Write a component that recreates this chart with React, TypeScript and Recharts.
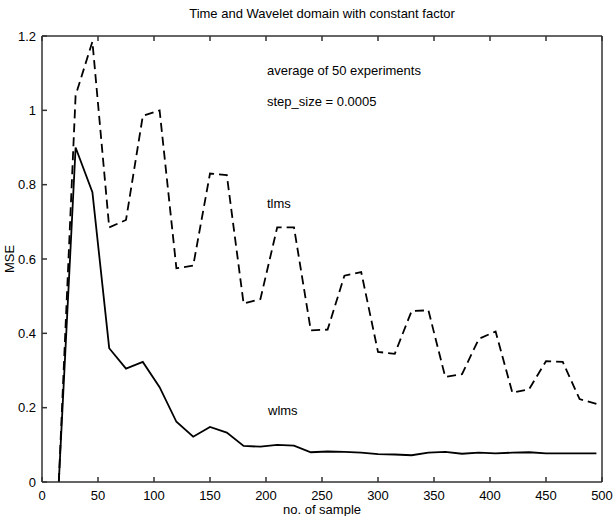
import { LineChart, Line, XAxis, YAxis } from 'recharts';

// sample index (every 15 samples)
const samples = [
  15, 30, 45, 60, 75, 90, 105, 120, 135, 150, 165, 180, 195, 210, 225, 240, 255,
  270, 285, 300, 315, 330, 345, 360, 375, 390, 405, 420, 435, 450, 465, 480, 495,
];

// time domain LMS (dashed)
const tlms = [
  0, 1.04, 1.185, 0.685, 0.705, 0.985, 1.0, 0.575, 0.582, 0.83, 0.826, 0.48, 0.492,
  0.685, 0.685, 0.408, 0.41, 0.555, 0.565, 0.35, 0.345, 0.46, 0.462, 0.283, 0.29,
  0.385, 0.405, 0.24, 0.25, 0.325, 0.323, 0.223, 0.21,
];

// wavelet domain LMS (solid)
const wlms = [
  0, 0.9, 0.78, 0.36, 0.305, 0.323, 0.255, 0.162, 0.122, 0.148, 0.133, 0.097, 0.095,
  0.1, 0.098, 0.08, 0.082, 0.081, 0.079, 0.075, 0.074, 0.072, 0.079, 0.081, 0.076,
  0.079, 0.077, 0.079, 0.08, 0.077, 0.077, 0.077, 0.077,
];

const xTicks = [0, 50, 100, 150, 200, 250, 300, 350, 400, 450, 500];
const yTicks = [0, 0.2, 0.4, 0.6, 0.8, 1, 1.2];

const data = samples.map((s, i) => ({ sample: s, tlms: tlms[i], wlms: wlms[i] }));

const FONT = '"Liberation Sans", Arial, Helvetica, sans-serif';
const FRAME = '#333';
const txt = { fontSize: 13, fontFamily: FONT, fill: '#000' };
const tickFont = { fontSize: 13, fontFamily: FONT, fill: '#000' };
const noLabel = () => '';

export default function App() {
  return (
    <div style={{ position: 'absolute', left: 0, top: 0, width: 616, height: 516, background: '#fff' }}>
      <LineChart width={616} height={516} data={data} margin={{ top: 36, right: 14, bottom: 0, left: 0 }}>
        <XAxis
          dataKey="sample"
          type="number"
          domain={[0, 500]}
          ticks={xTicks}
          height={34}
          tickSize={-5}
          tickMargin={14}
          stroke={FRAME}
          strokeWidth={1.5}
          tick={tickFont}
        />
        <XAxis
          xAxisId="top"
          orientation="top"
          dataKey="sample"
          type="number"
          domain={[0, 500]}
          ticks={xTicks}
          mirror
          height={30}
          tickSize={5}
          stroke={FRAME}
          strokeWidth={1.5}
          tickFormatter={noLabel}
        />
        <YAxis
          type="number"
          domain={[0, 1.2]}
          ticks={yTicks}
          width={42}
          tickSize={-5}
          tickMargin={11}
          stroke={FRAME}
          strokeWidth={1.5}
          tick={tickFont}
        />
        <YAxis
          yAxisId="right"
          orientation="right"
          type="number"
          domain={[0, 1.2]}
          ticks={yTicks}
          mirror
          width={30}
          tickSize={5}
          stroke={FRAME}
          strokeWidth={1.5}
          tickFormatter={noLabel}
        />
        <Line
          type="linear"
          dataKey="tlms"
          stroke="#000"
          strokeWidth={1.8}
          strokeDasharray="9 5"
          dot={false}
          isAnimationActive={false}
        />
        <Line
          type="linear"
          dataKey="wlms"
          stroke="#000"
          strokeWidth={1.8}
          dot={false}
          isAnimationActive={false}
        />
        <text x={322} y={18} textAnchor="middle" {...txt}>
          Time and Wavelet domain with constant factor
        </text>
        <text x={267} y={75} {...txt}>average of 50 experiments</text>
        <text x={267} y={106} {...txt}>step_size = 0.0005</text>
        <text x={267} y={208} {...txt}>tlms</text>
        <text x={268} y={415} {...txt}>wlms</text>
        <text x={322} y={514} textAnchor="middle" {...txt}>no. of sample</text>
        <text x={14} y={259} textAnchor="middle" transform="rotate(-90 14 259)" {...txt}>
          MSE
        </text>
      </LineChart>
    </div>
  );
}
